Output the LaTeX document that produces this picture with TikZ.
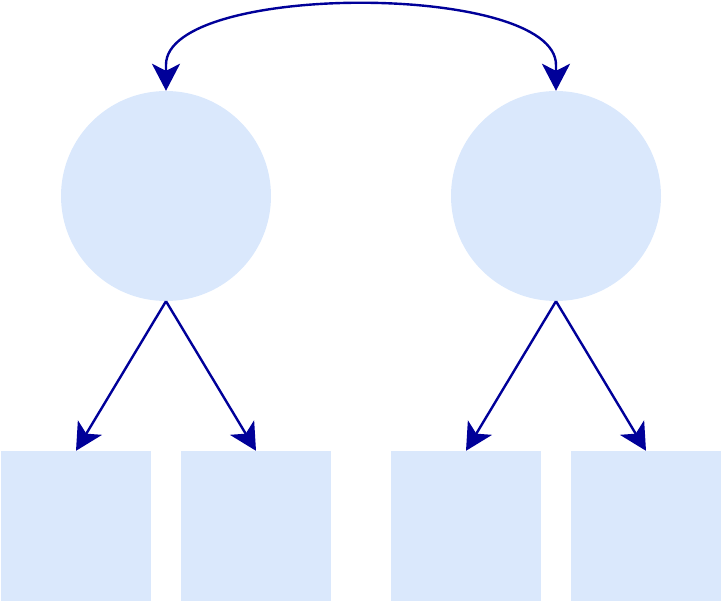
\documentclass[tikz,border=0pt]{standalone}
\usetikzlibrary{arrows.meta}
\definecolor{fillblue}{HTML}{DAE8FC}
\definecolor{linkblue}{HTML}{000099}
\begin{document}
\begin{tikzpicture}[x=1pt,y=-1pt,
  ball/.style={circle,fill=fillblue,minimum size=210pt,inner sep=0pt},
  box/.style={rectangle,fill=fillblue,minimum size=150pt,inner sep=0pt},
  tipstyle/.style={},
  link/.style={draw=linkblue,line width=2.4pt,-{Stealth[length=27pt,width=28pt,inset=7pt]}},
  dlink/.style={draw=linkblue,line width=2.4pt,{Stealth[length=27pt,width=28pt,inset=7pt]}-{Stealth[length=27pt,width=28pt,inset=7pt]}}]
\useasboundingbox (0,0) rectangle (723,603);
\node[ball] (c1) at (166,196) {};
\node[ball] (c2) at (556,196) {};
\node[box] (s1) at (76,526) {};
\node[box] (s2) at (256,526) {};
\node[box] (s3) at (466,526) {};
\node[box] (s4) at (646,526) {};
\draw[link] (c1.south) -- (s1.north);
\draw[link] (c1.south) -- (s2.north);
\draw[link] (c2.south) -- (s3.north);
\draw[link] (c2.south) -- (s4.north);
\draw[dlink] (c1.north) -- ++(0,-26) .. controls (166,-18) and (556,-18) .. (556,65) -- (c2.north);
\end{tikzpicture}
\end{document}
